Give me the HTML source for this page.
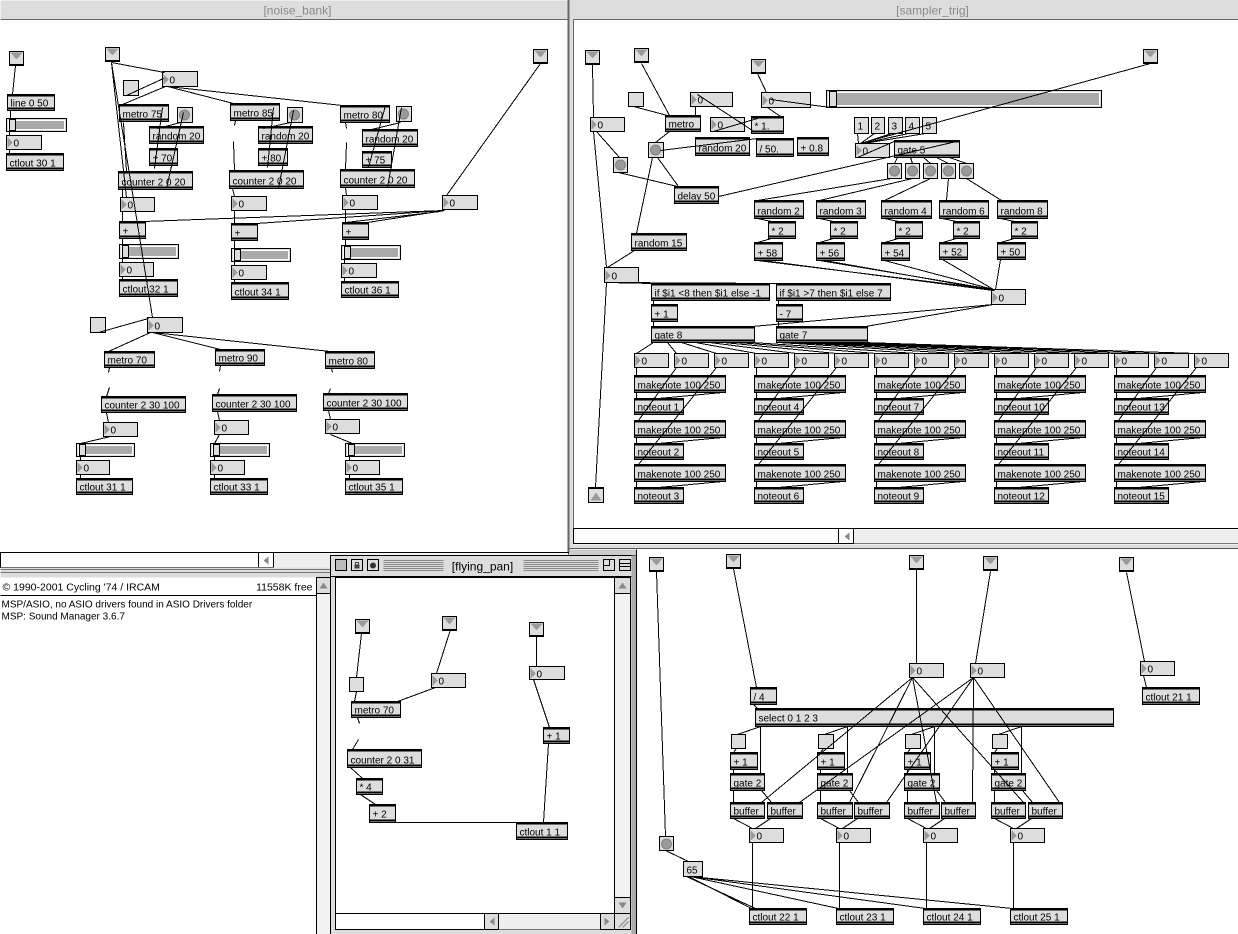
<!DOCTYPE html>
<html><head><meta charset="utf-8"><title>Max patches</title>
<style>
html,body{margin:0;padding:0;background:#fff;}
body{width:1238px;height:934px;overflow:hidden;}
svg{display:block;}
text{font-family:"Liberation Sans",sans-serif;font-size:10px;fill:#000;}
.o{fill:#ddd;stroke:#000;}
.l{stroke:#000;fill:none;}
.k{stroke:#000;fill:none;stroke-width:2;}
.s1{fill:#aaa;stroke:#fff;}
.kn{fill:#ddd;stroke:#000;}
.ttl{font-size:12px;fill:#8a8a8a;}
</style></head><body>
<svg width="1238" height="934" viewBox="0 0 1238 934" shape-rendering="crispEdges" xmlns="http://www.w3.org/2000/svg">
<defs>
<path id="nt" d="M1,2 L6,7 L1,12 Z" fill="#999"/>
<g id="inl"><path d="M1,1 H13 L7,8 Z" fill="#9a9a9a"/><path d="M0,13 H14" stroke="#000"/></g>
<circle id="bt" cx="7" cy="7.5" r="5" fill="#9a9a9a" stroke="#808080" style="shape-rendering:auto"/>
</defs>
<g transform="translate(0.5,0.5)">

<!-- ============ noise_bank content ============ -->
<rect class="o" x="9" y="51" width="14" height="14"/><use href="#inl" x="9" y="51"/>
<rect class="o" x="105" y="47" width="14" height="14"/><use href="#inl" x="105" y="47"/>
<rect class="o" x="533" y="49" width="14" height="14"/><use href="#inl" x="533" y="49"/>
<rect class="o" x="7" y="94" width="47" height="16"/><path class="k" d="M7,95h47M7,108h47"/><text x="10" y="106">line 0 50</text>
<rect class="o" x="6" y="118" width="60" height="13"/><rect class="s1" x="8" y="120" width="56" height="9"/><rect class="kn" x="9" y="119" width="6" height="11"/>
<rect class="o" x="6" y="135" width="35" height="14"/><use href="#nt" x="6" y="135"/><text x="13" y="146">0</text>
<rect class="o" x="6" y="153" width="57" height="17"/><path class="k" d="M6,154h57M6,168h57"/><text x="9" y="166">ctlout 30 1</text>

<rect class="o" x="162" y="71" width="35" height="15"/><use href="#nt" x="162" y="72"/><text x="169" y="83">0</text>
<rect class="o" x="123" y="80" width="15" height="15"/>

<rect class="o" x="119" y="104" width="49" height="17"/><path class="k" d="M119,105h49M119,119h49"/><text x="122" y="117">metro 75</text>
<rect class="o" x="177" y="107" width="15" height="15"/><use href="#bt" x="177" y="107"/>
<rect class="o" x="149" y="126" width="54" height="17"/><path class="k" d="M149,127h54M149,141h54"/><text x="152" y="139">random 20</text>
<rect class="o" x="149" y="148" width="28" height="17"/><path class="k" d="M149,149h28M149,163h28"/><text x="152" y="161">+ 70</text>
<rect class="o" x="118" y="171" width="74" height="18"/><path class="k" d="M118,172h74M118,187h74"/><text x="121" y="185">counter 2 0 20</text>
<rect class="o" x="120" y="197" width="34" height="14"/><use href="#nt" x="120" y="197"/><text x="127" y="208">0</text>
<rect class="o" x="119" y="221" width="26" height="17"/><path class="k" d="M119,222h26M119,236h26"/><text x="122" y="234">+</text>
<rect class="o" x="119" y="244" width="59" height="14"/><rect class="s1" x="121" y="246" width="55" height="10"/><rect class="kn" x="122" y="245" width="6" height="12"/>
<rect class="o" x="119" y="262" width="34" height="14"/><use href="#nt" x="119" y="262"/><text x="126" y="273">0</text>
<rect class="o" x="119" y="279" width="58" height="17"/><path class="k" d="M119,280h58M119,294h58"/><text x="122" y="292">ctlout 32 1</text>

<rect class="o" x="230" y="103" width="49" height="17"/><path class="k" d="M230,104h49M230,118h49"/><text x="233" y="116">metro 85</text>
<rect class="o" x="287" y="107" width="15" height="15"/><use href="#bt" x="287" y="107"/>
<rect class="o" x="258" y="126" width="54" height="17"/><path class="k" d="M258,127h54M258,141h54"/><text x="261" y="139">random 20</text>
<rect class="o" x="258" y="148" width="29" height="17"/><path class="k" d="M258,149h29M258,163h29"/><text x="261" y="161">+ 80</text>
<rect class="o" x="229" y="170" width="74" height="18"/><path class="k" d="M229,171h74M229,186h74"/><text x="232" y="184">counter 2 0 20</text>
<rect class="o" x="231" y="196" width="35" height="14"/><use href="#nt" x="231" y="196"/><text x="238" y="207">0</text>
<rect class="o" x="231" y="223" width="26" height="17"/><path class="k" d="M231,224h26M231,238h26"/><text x="234" y="236">+</text>
<rect class="o" x="231" y="248" width="59" height="13"/><rect class="s1" x="233" y="250" width="55" height="9"/><rect class="kn" x="234" y="249" width="6" height="11"/>
<rect class="o" x="231" y="265" width="35" height="14"/><use href="#nt" x="231" y="265"/><text x="238" y="276">0</text>
<rect class="o" x="231" y="282" width="57" height="17"/><path class="k" d="M231,283h57M231,297h57"/><text x="234" y="295">ctlout 34 1</text>

<rect class="o" x="340" y="105" width="49" height="17"/><path class="k" d="M340,106h49M340,120h49"/><text x="343" y="118">metro 80</text>
<rect class="o" x="396" y="106" width="15" height="15"/><use href="#bt" x="396" y="106"/>
<rect class="o" x="362" y="129" width="55" height="17"/><path class="k" d="M362,130h55M362,144h55"/><text x="365" y="142">random 20</text>
<rect class="o" x="362" y="151" width="29" height="16"/><path class="k" d="M362,152h29M362,165h29"/><text x="365" y="163">+ 75</text>
<rect class="o" x="340" y="169" width="74" height="18"/><path class="k" d="M340,170h74M340,185h74"/><text x="343" y="183">counter 2 0 20</text>
<rect class="o" x="342" y="195" width="35" height="14"/><use href="#nt" x="342" y="195"/><text x="349" y="206">0</text>
<rect class="o" x="342" y="222" width="26" height="17"/><path class="k" d="M342,223h26M342,237h26"/><text x="345" y="235">+</text>
<rect class="o" x="341" y="245" width="59" height="14"/><rect class="s1" x="343" y="247" width="55" height="10"/><rect class="kn" x="344" y="246" width="6" height="12"/>
<rect class="o" x="341" y="263" width="35" height="14"/><use href="#nt" x="341" y="263"/><text x="348" y="274">0</text>
<rect class="o" x="341" y="281" width="57" height="16"/><path class="k" d="M341,282h57M341,295h57"/><text x="344" y="293">ctlout 36 1</text>

<rect class="o" x="442" y="195" width="35" height="14"/><use href="#nt" x="442" y="195"/><text x="449" y="206">0</text>

<rect class="o" x="90" y="317" width="15" height="15"/>
<rect class="o" x="147" y="317" width="35" height="15"/><use href="#nt" x="147" y="318"/><text x="154" y="329">0</text>
<rect class="o" x="104" y="351" width="50" height="16"/><path class="k" d="M104,352h50M104,365h50"/><text x="107" y="363">metro 70</text>
<rect class="o" x="215" y="349" width="49" height="16"/><path class="k" d="M215,350h49M215,363h49"/><text x="218" y="361">metro 90</text>
<rect class="o" x="325" y="351" width="49" height="17"/><path class="k" d="M325,352h49M325,366h49"/><text x="328" y="364">metro 80</text>
<rect class="o" x="101" y="396" width="84" height="16"/><path class="k" d="M101,397h84M101,410h84"/><text x="104" y="408">counter 2 30 100</text>
<rect class="o" x="212" y="394" width="84" height="17"/><path class="k" d="M212,395h84M212,409h84"/><text x="215" y="407">counter 2 30 100</text>
<rect class="o" x="323" y="393" width="84" height="17"/><path class="k" d="M323,394h84M323,408h84"/><text x="326" y="406">counter 2 30 100</text>
<rect class="o" x="103" y="422" width="34" height="14"/><use href="#nt" x="103" y="422"/><text x="110" y="433">0</text>
<rect class="o" x="214" y="420" width="34" height="14"/><use href="#nt" x="214" y="420"/><text x="221" y="431">0</text>
<rect class="o" x="325" y="419" width="34" height="14"/><use href="#nt" x="325" y="419"/><text x="332" y="430">0</text>
<rect class="o" x="76" y="443" width="58" height="13"/><rect class="s1" x="78" y="445" width="54" height="9"/><rect class="kn" x="79" y="444" width="6" height="11"/>
<rect class="o" x="210" y="443" width="59" height="13"/><rect class="s1" x="212" y="445" width="55" height="9"/><rect class="kn" x="213" y="444" width="6" height="11"/>
<rect class="o" x="345" y="443" width="59" height="13"/><rect class="s1" x="347" y="445" width="55" height="9"/><rect class="kn" x="348" y="444" width="6" height="11"/>
<rect class="o" x="76" y="460" width="33" height="14"/><use href="#nt" x="76" y="460"/><text x="83" y="471">0</text>
<rect class="o" x="210" y="460" width="34" height="14"/><use href="#nt" x="210" y="460"/><text x="217" y="471">0</text>
<rect class="o" x="345" y="460" width="34" height="14"/><use href="#nt" x="345" y="460"/><text x="352" y="471">0</text>
<rect class="o" x="76" y="478" width="56" height="16"/><path class="k" d="M76,479h56M76,492h56"/><text x="79" y="490">ctlout 31 1</text>
<rect class="o" x="210" y="478" width="57" height="16"/><path class="k" d="M210,479h57M210,492h57"/><text x="213" y="490">ctlout 33 1</text>
<rect class="o" x="345" y="478" width="57" height="16"/><path class="k" d="M345,479h57M345,492h57"/><text x="348" y="490">ctlout 35 1</text>

<path class="l" d="M15,65L12,94M10,110L10,118M9,131L9,135M9,149L9,153
M111,62L164,72M111,62L152,317M111,62L126,197M126,95L163,78
M165,86L122,104M167,86L233,103M167,86L342,105
M123,122L126,171M162,107L154,168M183,112L166,188M180,122L157,128
M273,107L267,167M293,110L278,188M290,122L263,128
M385,105L368,167M401,107L387,187M400,122L367,130
M235,120L234,125M233,141L234,170M345,122L346,128M346,142L345,169
M122,189L122,197M232,188L234,196M345,187L346,195
M122,211L122,221M122,238L122,244M122,258L122,262M122,276L122,279
M234,210L234,223M234,240L234,248M234,261L234,265M234,279L234,282
M345,209L345,222M345,239L345,245M344,259L344,263M344,277L344,281
M444,210L143,221M444,210L256,223M444,210L367,222M440,211L345,222M540,63L446,195
M98,332L148,318M150,332L108,351M152,332L220,349M152,332L330,351
M109,367L108,372M109,387L106,396M220,365L219,371M219,388L217,394M331,368L332,372M330,388L328,393
M106,412L108,422M217,411L219,420M328,410L330,419
M110,436L80,443M219,434L214,443M330,434L352,443
M80,456L80,460M214,456L214,460M349,456L349,460M80,474L80,478M214,474L214,478M349,474L349,478"/>

<!-- ============ sampler_trig content ============ -->
<rect class="o" x="585" y="50" width="14" height="14"/><use href="#inl" x="585" y="50"/>
<rect class="o" x="634" y="48" width="14" height="14"/><use href="#inl" x="634" y="48"/>
<rect class="o" x="751" y="59" width="14" height="14"/><use href="#inl" x="751" y="59"/>
<rect class="o" x="1143" y="49" width="14" height="14"/><use href="#inl" x="1143" y="49"/>
<rect class="o" x="628" y="92" width="15" height="14"/>
<rect class="o" x="690" y="92" width="42" height="14"/><use href="#nt" x="690" y="92"/><text x="697" y="103">0</text>
<rect class="o" x="761" y="92" width="49" height="15"/><use href="#nt" x="761" y="93"/><text x="768" y="104">0</text>
<rect class="o" x="826" y="90" width="275" height="17"/><rect class="s1" x="828" y="92" width="271" height="13"/><rect class="kn" x="829" y="91" width="7" height="15"/>
<rect class="o" x="590" y="117" width="34" height="14"/><use href="#nt" x="590" y="117"/><text x="597" y="128">0</text>
<rect class="o" x="665" y="115" width="35" height="16"/><path class="k" d="M665,116h35M665,129h35"/><text x="668" y="127">metro</text>
<rect class="o" x="710" y="117" width="34" height="14"/><use href="#nt" x="710" y="117"/><text x="717" y="128">0</text>
<rect class="o" x="751" y="116" width="32" height="17"/><path class="k" d="M751,117h32M751,131h32"/><text x="754" y="129">* 1.</text>
<rect class="o" x="695" y="137" width="54" height="18"/><path class="k" d="M695,138h54M695,153h54"/><text x="698" y="151">random 20</text>
<rect class="o" x="756" y="138" width="37" height="18"/><path class="k" d="M756,139h37M756,154h37"/><text x="759" y="152">/ 50.</text>
<rect class="o" x="797" y="137" width="31" height="18"/><path class="k" d="M797,138h31M797,153h31"/><text x="800" y="151">+ 0.8</text>
<rect class="o" x="648" y="142" width="15" height="15"/><use href="#bt" x="648" y="142"/>
<rect class="o" x="613" y="157" width="14" height="15"/><use href="#bt" x="613" y="157"/>
<rect class="o" x="674" y="186" width="44" height="17"/><path class="k" d="M674,187h44M674,201h44"/><text x="677" y="199">delay 50</text>
<rect class="o" x="854" y="117" width="14" height="16"/><text x="857" y="129">1</text>
<rect class="o" x="871" y="117" width="13" height="16"/><text x="874" y="129">2</text>
<rect class="o" x="888" y="117" width="14" height="16"/><text x="891" y="129">3</text>
<rect class="o" x="905" y="117" width="14" height="16"/><text x="908" y="129">4</text>
<rect class="o" x="922" y="117" width="14" height="16"/><text x="925" y="129">5</text>
<rect class="o" x="855" y="143" width="34" height="14"/><use href="#nt" x="855" y="143"/><text x="862" y="154">0</text>
<rect class="o" x="894" y="140" width="65" height="17"/><path class="k" d="M894,141h65M894,155h65"/><text x="897" y="153">gate 5</text>
<rect class="o" x="887" y="163" width="14" height="15"/><use href="#bt" x="887" y="163"/>
<rect class="o" x="905" y="163" width="14" height="15"/><use href="#bt" x="905" y="163"/>
<rect class="o" x="923" y="163" width="14" height="15"/><use href="#bt" x="923" y="163"/>
<rect class="o" x="941" y="163" width="14" height="15"/><use href="#bt" x="941" y="163"/>
<rect class="o" x="959" y="163" width="14" height="15"/><use href="#bt" x="959" y="163"/>
<rect class="o" x="754" y="200" width="49" height="18"/><path class="k" d="M754,201h49M754,216h49"/><text x="757" y="214">random 2</text>
<rect class="o" x="816" y="200" width="49" height="18"/><path class="k" d="M816,201h49M816,216h49"/><text x="819" y="214">random 3</text>
<rect class="o" x="881" y="200" width="50" height="18"/><path class="k" d="M881,201h50M881,216h50"/><text x="884" y="214">random 4</text>
<rect class="o" x="939" y="200" width="49" height="18"/><path class="k" d="M939,201h49M939,216h49"/><text x="942" y="214">random 6</text>
<rect class="o" x="997" y="200" width="50" height="18"/><path class="k" d="M997,201h50M997,216h50"/><text x="1000" y="214">random 8</text>
<rect class="o" x="768" y="221" width="27" height="17"/><path class="k" d="M768,222h27M768,236h27"/><text x="771" y="234">* 2</text>
<rect class="o" x="830" y="221" width="27" height="17"/><path class="k" d="M830,222h27M830,236h27"/><text x="833" y="234">* 2</text>
<rect class="o" x="895" y="221" width="27" height="17"/><path class="k" d="M895,222h27M895,236h27"/><text x="898" y="234">* 2</text>
<rect class="o" x="953" y="221" width="26" height="17"/><path class="k" d="M953,222h26M953,236h26"/><text x="956" y="234">* 2</text>
<rect class="o" x="1011" y="221" width="26" height="17"/><path class="k" d="M1011,222h26M1011,236h26"/><text x="1014" y="234">* 2</text>
<rect class="o" x="754" y="242" width="28" height="18"/><path class="k" d="M754,243h28M754,258h28"/><text x="757" y="256">+ 58</text>
<rect class="o" x="816" y="242" width="28" height="18"/><path class="k" d="M816,243h28M816,258h28"/><text x="819" y="256">+ 56</text>
<rect class="o" x="881" y="242" width="28" height="18"/><path class="k" d="M881,243h28M881,258h28"/><text x="884" y="256">+ 54</text>
<rect class="o" x="939" y="242" width="28" height="17"/><path class="k" d="M939,243h28M939,257h28"/><text x="942" y="255">+ 52</text>
<rect class="o" x="997" y="242" width="28" height="17"/><path class="k" d="M997,243h28M997,257h28"/><text x="1000" y="255">+ 50</text>
<rect class="o" x="991" y="289" width="34" height="15"/><use href="#nt" x="991" y="290"/><text x="998" y="301">0</text>
<rect class="o" x="631" y="233" width="55" height="17"/><path class="k" d="M631,234h55M631,248h55"/><text x="634" y="246">random 15</text>
<rect class="o" x="604" y="267" width="34" height="15"/><use href="#nt" x="604" y="268"/><text x="611" y="279">0</text>
<rect class="o" x="588" y="487" width="15" height="15"/><path d="M590,500L595.5,492L601,500Z" fill="#9a9a9a"/><path class="l" d="M588,488h15"/>
<rect class="o" x="651" y="283" width="118" height="17"/><path class="k" d="M651,284h118M651,298h118"/><text x="654" y="296">if $i1 &lt;8 then $i1 else -1</text>
<rect class="o" x="776" y="283" width="114" height="17"/><path class="k" d="M776,284h114M776,298h114"/><text x="779" y="296">if $i1 &gt;7 then $i1 else 7</text>
<rect class="o" x="651" y="304" width="26" height="17"/><path class="k" d="M651,305h26M651,319h26"/><text x="654" y="317">+ 1</text>
<rect class="o" x="776" y="304" width="26" height="17"/><path class="k" d="M776,305h26M776,319h26"/><text x="779" y="317">- 7</text>
<rect class="o" x="651" y="326" width="103" height="16"/><path class="k" d="M651,327h103M651,340h103"/><text x="654" y="338">gate 8</text>
<rect class="o" x="776" y="326" width="91" height="16"/><path class="k" d="M776,327h91M776,340h91"/><text x="779" y="338">gate 7</text>

<!-- number row -->
<rect class="o" x="634" y="353" width="34" height="14"/><use href="#nt" x="634" y="353"/><text x="641" y="364">0</text>
<rect class="o" x="674" y="353" width="34" height="14"/><use href="#nt" x="674" y="353"/><text x="681" y="364">0</text>
<rect class="o" x="714" y="353" width="34" height="14"/><use href="#nt" x="714" y="353"/><text x="721" y="364">0</text>
<rect class="o" x="754" y="353" width="34" height="14"/><use href="#nt" x="754" y="353"/><text x="761" y="364">0</text>
<rect class="o" x="794" y="353" width="34" height="14"/><use href="#nt" x="794" y="353"/><text x="801" y="364">0</text>
<rect class="o" x="834" y="353" width="34" height="14"/><use href="#nt" x="834" y="353"/><text x="841" y="364">0</text>
<rect class="o" x="874" y="353" width="34" height="14"/><use href="#nt" x="874" y="353"/><text x="881" y="364">0</text>
<rect class="o" x="914" y="353" width="34" height="14"/><use href="#nt" x="914" y="353"/><text x="921" y="364">0</text>
<rect class="o" x="954" y="353" width="34" height="14"/><use href="#nt" x="954" y="353"/><text x="961" y="364">0</text>
<rect class="o" x="994" y="353" width="34" height="14"/><use href="#nt" x="994" y="353"/><text x="1001" y="364">0</text>
<rect class="o" x="1034" y="353" width="34" height="14"/><use href="#nt" x="1034" y="353"/><text x="1041" y="364">0</text>
<rect class="o" x="1074" y="353" width="34" height="14"/><use href="#nt" x="1074" y="353"/><text x="1081" y="364">0</text>
<rect class="o" x="1114" y="353" width="34" height="14"/><use href="#nt" x="1114" y="353"/><text x="1121" y="364">0</text>
<rect class="o" x="1154" y="353" width="34" height="14"/><use href="#nt" x="1154" y="353"/><text x="1161" y="364">0</text>
<rect class="o" x="1194" y="353" width="34" height="14"/><use href="#nt" x="1194" y="353"/><text x="1201" y="364">0</text>

<!-- group 0 -->
<rect class="o" x="634" y="375" width="91" height="17"/><path class="k" d="M634,376h91M634,390h91"/><text x="637" y="388">makenote 100 250</text>
<rect class="o" x="634" y="398" width="49" height="16"/><path class="k" d="M634,399h49M634,412h49"/><text x="637" y="410">noteout 1</text>
<rect class="o" x="634" y="420" width="91" height="17"/><path class="k" d="M634,421h91M634,435h91"/><text x="637" y="433">makenote 100 250</text>
<rect class="o" x="634" y="443" width="49" height="16"/><path class="k" d="M634,444h49M634,457h49"/><text x="637" y="455">noteout 2</text>
<rect class="o" x="634" y="464" width="91" height="17"/><path class="k" d="M634,465h91M634,479h91"/><text x="637" y="477">makenote 100 250</text>
<rect class="o" x="634" y="487" width="49" height="16"/><path class="k" d="M634,488h49M634,501h49"/><text x="637" y="499">noteout 3</text>
<!-- group 1 -->
<rect class="o" x="754" y="375" width="91" height="17"/><path class="k" d="M754,376h91M754,390h91"/><text x="757" y="388">makenote 100 250</text>
<rect class="o" x="754" y="398" width="49" height="16"/><path class="k" d="M754,399h49M754,412h49"/><text x="757" y="410">noteout 4</text>
<rect class="o" x="754" y="420" width="91" height="17"/><path class="k" d="M754,421h91M754,435h91"/><text x="757" y="433">makenote 100 250</text>
<rect class="o" x="754" y="443" width="49" height="16"/><path class="k" d="M754,444h49M754,457h49"/><text x="757" y="455">noteout 5</text>
<rect class="o" x="754" y="464" width="91" height="17"/><path class="k" d="M754,465h91M754,479h91"/><text x="757" y="477">makenote 100 250</text>
<rect class="o" x="754" y="487" width="49" height="16"/><path class="k" d="M754,488h49M754,501h49"/><text x="757" y="499">noteout 6</text>
<!-- group 2 -->
<rect class="o" x="874" y="375" width="91" height="17"/><path class="k" d="M874,376h91M874,390h91"/><text x="877" y="388">makenote 100 250</text>
<rect class="o" x="874" y="398" width="49" height="16"/><path class="k" d="M874,399h49M874,412h49"/><text x="877" y="410">noteout 7</text>
<rect class="o" x="874" y="420" width="91" height="17"/><path class="k" d="M874,421h91M874,435h91"/><text x="877" y="433">makenote 100 250</text>
<rect class="o" x="874" y="443" width="49" height="16"/><path class="k" d="M874,444h49M874,457h49"/><text x="877" y="455">noteout 8</text>
<rect class="o" x="874" y="464" width="91" height="17"/><path class="k" d="M874,465h91M874,479h91"/><text x="877" y="477">makenote 100 250</text>
<rect class="o" x="874" y="487" width="49" height="16"/><path class="k" d="M874,488h49M874,501h49"/><text x="877" y="499">noteout 9</text>
<!-- group 3 -->
<rect class="o" x="994" y="375" width="91" height="17"/><path class="k" d="M994,376h91M994,390h91"/><text x="997" y="388">makenote 100 250</text>
<rect class="o" x="994" y="398" width="54" height="16"/><path class="k" d="M994,399h54M994,412h54"/><text x="997" y="410">noteout 10</text>
<rect class="o" x="994" y="420" width="91" height="17"/><path class="k" d="M994,421h91M994,435h91"/><text x="997" y="433">makenote 100 250</text>
<rect class="o" x="994" y="443" width="54" height="16"/><path class="k" d="M994,444h54M994,457h54"/><text x="997" y="455">noteout 11</text>
<rect class="o" x="994" y="464" width="91" height="17"/><path class="k" d="M994,465h91M994,479h91"/><text x="997" y="477">makenote 100 250</text>
<rect class="o" x="994" y="487" width="54" height="16"/><path class="k" d="M994,488h54M994,501h54"/><text x="997" y="499">noteout 12</text>
<!-- group 4 -->
<rect class="o" x="1114" y="375" width="91" height="17"/><path class="k" d="M1114,376h91M1114,390h91"/><text x="1117" y="388">makenote 100 250</text>
<rect class="o" x="1114" y="398" width="54" height="16"/><path class="k" d="M1114,399h54M1114,412h54"/><text x="1117" y="410">noteout 13</text>
<rect class="o" x="1114" y="420" width="91" height="17"/><path class="k" d="M1114,421h91M1114,435h91"/><text x="1117" y="433">makenote 100 250</text>
<rect class="o" x="1114" y="443" width="54" height="16"/><path class="k" d="M1114,444h54M1114,457h54"/><text x="1117" y="455">noteout 14</text>
<rect class="o" x="1114" y="464" width="91" height="17"/><path class="k" d="M1114,465h91M1114,479h91"/><text x="1117" y="477">makenote 100 250</text>
<rect class="o" x="1114" y="487" width="54" height="16"/><path class="k" d="M1114,488h54M1114,501h54"/><text x="1117" y="499">noteout 15</text>

<path class="l" d="M592,64L593,117M593,131L606,267M606,282L595,487M596,131L619,157M618,172L677,186
M641,63L669,115M633,106L667,115M695,106L695,115M669,131L655,142M652,157L636,233M657,157L678,186
M660,150L757,138M697,94L752,130M713,131L760,117M767,107L780,116M770,99L830,107M757,73L766,92
M718,196L956,141M857,157L896,140
M857,133L858,143M874,133L860,143M891,133L861,143M908,133L862,143M925,133L863,143M1150,63L860,143
M897,157L894,163M910,157L912,163M923,157L930,163M936,157L948,163M949,157L966,163
M891,178L757,200M912,178L819,200M930,178L884,200M948,178L946,200M966,178L1001,200
M757,218L771,221M819,218L833,221M884,218L898,221M942,218L956,221M1000,218L1014,221
M771,238L757,242M833,238L819,242M898,238L884,242M956,238L942,242M1014,238L1000,242
M757,260L993,289M819,260L993,289M884,260L993,289M942,259L993,289M1000,259L995,289M762,260L993,290M824,260L994,290
M634,250L607,267M606,282L653,283M606,282L778,283M993,304L752,326M993,304L865,326
M653,300L653,304M653,321L653,326M778,300L778,304M778,321L778,326
M653,342L636,353M667,342L676,353M681,342L716,353M695,342L756,353M709,342L796,353M723,342L836,353M737,342L876,353M751,342L916,353
M778,342L956,353M792,342L996,353M806,342L1036,353M820,342L1076,353M834,342L1116,353M848,342L1156,353M862,342L1196,353
M636,367L636,375M676,367L638,420M716,367L638,464M636,392L636,398M722,392L658,398M636,437L636,443M722,437L658,443M636,481L636,487M722,481L658,487
M756,367L756,375M796,367L758,420M836,367L758,464M756,392L756,398M842,392L778,398M756,437L756,443M842,437L778,443M756,481L756,487M842,481L778,487
M876,367L876,375M916,367L878,420M956,367L878,464M876,392L876,398M962,392L898,398M876,437L876,443M962,437L898,443M876,481L876,487M962,481L898,487
M996,367L996,375M1036,367L998,420M1076,367L998,464M996,392L996,398M1082,392L1018,398M996,437L996,443M1082,437L1018,443M996,481L996,487M1082,481L1018,487
M1116,367L1116,375M1156,367L1118,420M1196,367L1118,464M1116,392L1116,398M1202,392L1138,398M1116,437L1116,443M1202,437L1138,443M1116,481L1116,487M1202,481L1138,487"/>

<!-- ============ bottom-right window content ============ -->
<rect class="o" x="649" y="557" width="14" height="14"/><use href="#inl" x="649" y="557"/>
<rect class="o" x="726" y="554" width="14" height="14"/><use href="#inl" x="726" y="554"/>
<rect class="o" x="909" y="555" width="14" height="14"/><use href="#inl" x="909" y="555"/>
<rect class="o" x="983" y="556" width="14" height="14"/><use href="#inl" x="983" y="556"/>
<rect class="o" x="1119" y="557" width="14" height="14"/><use href="#inl" x="1119" y="557"/>
<rect class="o" x="909" y="663" width="34" height="14"/><use href="#nt" x="909" y="663"/><text x="916" y="674">0</text>
<rect class="o" x="970" y="663" width="34" height="14"/><use href="#nt" x="970" y="663"/><text x="977" y="674">0</text>
<rect class="o" x="1140" y="661" width="34" height="14"/><use href="#nt" x="1140" y="661"/><text x="1147" y="672">0</text>
<rect class="o" x="1142" y="687" width="57" height="17"/><path class="k" d="M1142,688h57M1142,702h57"/><text x="1145" y="700">ctlout 21 1</text>
<rect class="o" x="750" y="687" width="26" height="17"/><path class="k" d="M750,688h26M750,702h26"/><text x="753" y="700">/ 4</text>
<rect class="o" x="755" y="708" width="358" height="18"/><path class="k" d="M755,709h358M755,724h358"/><text x="758" y="721">select 0 1 2 3</text>
<rect class="o" x="731" y="734" width="14" height="14"/>
<rect class="o" x="818" y="734" width="15" height="14"/>
<rect class="o" x="905" y="734" width="15" height="14"/>
<rect class="o" x="992" y="734" width="15" height="14"/>
<rect class="o" x="730" y="752" width="27" height="17"/><path class="k" d="M730,753h27M730,767h27"/><text x="733" y="765">+ 1</text>
<rect class="o" x="817" y="752" width="27" height="17"/><path class="k" d="M817,753h27M817,767h27"/><text x="820" y="765">+ 1</text>
<rect class="o" x="904" y="752" width="26" height="17"/><path class="k" d="M904,753h26M904,767h26"/><text x="907" y="765">+ 1</text>
<rect class="o" x="991" y="752" width="27" height="17"/><path class="k" d="M991,753h27M991,767h27"/><text x="994" y="765">+ 1</text>
<rect class="o" x="730" y="773" width="34" height="17"/><path class="k" d="M730,774h34M730,788h34"/><text x="733" y="786">gate 2</text>
<rect class="o" x="817" y="773" width="35" height="17"/><path class="k" d="M817,774h35M817,788h35"/><text x="820" y="786">gate 2</text>
<rect class="o" x="904" y="773" width="35" height="17"/><path class="k" d="M904,774h35M904,788h35"/><text x="907" y="786">gate 2</text>
<rect class="o" x="991" y="773" width="34" height="17"/><path class="k" d="M991,774h34M991,788h34"/><text x="994" y="786">gate 2</text>
<rect class="o" x="730" y="802" width="34" height="16"/><path class="k" d="M730,803h34M730,816h34"/><text x="733" y="814">buffer</text>
<rect class="o" x="767" y="802" width="35" height="16"/><path class="k" d="M767,803h35M767,816h35"/><text x="770" y="814">buffer</text>
<rect class="o" x="817" y="802" width="35" height="16"/><path class="k" d="M817,803h35M817,816h35"/><text x="820" y="814">buffer</text>
<rect class="o" x="854" y="802" width="35" height="16"/><path class="k" d="M854,803h35M854,816h35"/><text x="857" y="814">buffer</text>
<rect class="o" x="904" y="802" width="35" height="16"/><path class="k" d="M904,803h35M904,816h35"/><text x="907" y="814">buffer</text>
<rect class="o" x="941" y="802" width="34" height="16"/><path class="k" d="M941,803h34M941,816h34"/><text x="944" y="814">buffer</text>
<rect class="o" x="991" y="802" width="34" height="16"/><path class="k" d="M991,803h34M991,816h34"/><text x="994" y="814">buffer</text>
<rect class="o" x="1028" y="802" width="34" height="16"/><path class="k" d="M1028,803h34M1028,816h34"/><text x="1031" y="814">buffer</text>
<rect class="o" x="749" y="828" width="34" height="14"/><use href="#nt" x="749" y="828"/><text x="756" y="839">0</text>
<rect class="o" x="836" y="828" width="34" height="14"/><use href="#nt" x="836" y="828"/><text x="843" y="839">0</text>
<rect class="o" x="923" y="828" width="34" height="14"/><use href="#nt" x="923" y="828"/><text x="930" y="839">0</text>
<rect class="o" x="1010" y="828" width="34" height="14"/><use href="#nt" x="1010" y="828"/><text x="1017" y="839">0</text>
<rect class="o" x="659" y="836" width="14" height="14"/><use href="#bt" x="659" y="836"/>
<rect class="o" x="683" y="861" width="19" height="15"/><text x="686" y="873">65</text>
<rect class="o" x="749" y="908" width="57" height="16"/><path class="k" d="M749,909h57M749,922h57"/><text x="752" y="920">ctlout 22 1</text>
<rect class="o" x="836" y="908" width="57" height="16"/><path class="k" d="M836,909h57M836,922h57"/><text x="839" y="920">ctlout 23 1</text>
<rect class="o" x="923" y="908" width="57" height="16"/><path class="k" d="M923,909h57M923,922h57"/><text x="926" y="920">ctlout 24 1</text>
<rect class="o" x="1010" y="908" width="57" height="16"/><path class="k" d="M1010,909h57M1010,922h57"/><text x="1013" y="920">ctlout 25 1</text>

<path class="l" d="M656,571L665,836M665,850L688,861
M688,876L751,908M690,876L838,908M690,876L925,908M690,876L1012,908M686,876L755,908
M733,568L756,687M753,704L757,708M916,569L916,663M990,571L975,663M1126,572L1144,661M1143,675L1146,687
M760,726L737,734M760,726L760,773M847,726L824,734M847,726L847,773M934,726L911,734M934,726L934,773M1021,726L998,734M1021,726L1021,773
M736,748L733,752M823,748L820,752M910,748L907,752M997,748L994,752
M733,769L733,773M820,769L820,773M907,769L907,773M994,769L994,773
M733,790L733,802M761,790L771,802M820,790L820,802M849,790L858,802M907,790L907,802M936,790L945,802M994,790L994,802M1022,790L1032,802
M733,818L752,828M770,818L755,828M820,818L839,828M857,818L842,828M907,818L926,828M944,818L929,828M994,818L1013,828M1031,818L1016,828
M752,842L752,908M839,842L839,908M926,842L926,908M1013,842L1013,908
M912,677L761,802M912,677L849,802M912,677L936,802M912,677L1023,802
M973,677L799,802M973,677L886,802M973,677L972,802M973,677L1059,802"/>

<!-- ============ window chrome ============ -->
<rect x="0" y="0" width="567" height="19" fill="#ddd"/>
<path d="M0,19H567" stroke="#666"/>
<text class="ttl" x="297" y="14" text-anchor="middle">[noise_bank]</text>
<rect x="567" y="-1" width="2" height="553" fill="#666"/>
<rect x="569" y="-1" width="670" height="20" fill="#ddd"/>
<path d="M573,19H1238" stroke="#666"/>
<text class="ttl" x="932" y="14" text-anchor="middle">[sampler_trig]</text>
<rect x="569" y="19" width="4" height="529" fill="#ddd"/>
<path d="M573,19V528" stroke="#666"/>
<rect x="573" y="528" width="666" height="15" fill="#fff" stroke="#000"/>
<rect x="853" y="529" width="385" height="14" fill="#eee"/>
<path d="M838,528V543M853,528V543" stroke="#000"/>
<path d="M849,532L844,536L849,540Z" fill="#888"/>
<rect x="569" y="544" width="669" height="4" fill="#ddd"/>
<path d="M568,548H1238" stroke="#555"/>
<rect x="569" y="549" width="67" height="6" fill="#ccc"/>

<rect x="0" y="552" width="568" height="15" fill="#fff" stroke="#000"/>
<rect x="273" y="553" width="295" height="14" fill="#eee"/>
<path d="M258,552V567M273,552V567" stroke="#000"/>
<path d="M268,556L263,560L268,564Z" fill="#888"/>
<rect x="0" y="567" width="330" height="10" fill="#ddd"/>
<path d="M0,569H330M0,572H330" stroke="#777"/>
<rect x="0" y="577" width="316" height="357" fill="#fff"/>
<path d="M0,595H316" stroke="#000"/>
<text x="2" y="590" style="font-size:10.5px">© 1990-2001 Cycling '74 / IRCAM</text>
<text x="312" y="590" text-anchor="end" style="font-size:10.5px">11558K free</text>
<rect x="316" y="577" width="14" height="358" fill="#f2f2f2" stroke="#000"/>
<rect x="316" y="577" width="14" height="16" fill="#ddd" stroke="#000"/>
<path d="M319,588L323,582L327,588Z" fill="#888"/>
<text x="1" y="607">MSP/ASIO, no ASIO drivers found in ASIO Drivers folder</text>
<text x="1" y="619">MSP: Sound Manager 3.6.7</text>

<!-- flying_pan window -->
<rect x="330" y="555" width="306" height="380" fill="#ddd" stroke="#000"/>
<rect x="335" y="559" width="11" height="11" fill="#bbb" stroke="#000"/>
<rect x="351" y="559" width="11" height="11" fill="#ddd" stroke="#000"/>
<path d="M354,564h5v4h-5z" fill="#444"/><path d="M355,564v-2h3v2" stroke="#444" fill="none"/>
<rect x="367" y="559" width="11" height="11" fill="#ddd" stroke="#000"/>
<circle cx="372.5" cy="565" r="3" fill="#333" style="shape-rendering:auto"/>
<path d="M383,560H443M383,562H443M383,564H443M383,566H443M383,568H443M383,570H443M523,560H598M523,562H598M523,564H598M523,566H598M523,568H598M523,570H598" stroke="#888"/>
<text x="482" y="570" text-anchor="middle" style="font-size:12px">[flying_pan]</text>
<rect x="603" y="559" width="11" height="11" fill="#ddd" stroke="#000"/><path d="M603,565h6v-6" stroke="#000" fill="none"/>
<rect x="619" y="559" width="11" height="11" fill="#ddd" stroke="#000"/><path d="M619,563h11M619,566h11" stroke="#000"/>
<path d="M330,576H636" stroke="#000"/>
<rect x="335" y="577" width="279" height="336" fill="#fff" stroke="#000"/>
<rect x="614" y="577" width="16" height="336" fill="#f2f2f2" stroke="#000"/>
<rect x="614" y="577" width="16" height="16" fill="#ddd" stroke="#000"/>
<path d="M618,588L622,582L626,588Z" fill="#888"/>
<rect x="614" y="897" width="16" height="16" fill="#ddd" stroke="#000"/>
<path d="M618,902L622,908L626,902Z" fill="#888"/>
<rect x="335" y="913" width="279" height="16" fill="#fff" stroke="#000"/>
<rect x="498" y="914" width="102" height="15" fill="#eee"/>
<rect x="484" y="913" width="14" height="16" fill="#ddd" stroke="#000"/>
<path d="M494,917L489,921L494,925Z" fill="#888"/>
<rect x="600" y="913" width="14" height="16" fill="#ddd" stroke="#000"/>
<path d="M604,917L609,921L604,925Z" fill="#888"/>
<rect x="614" y="913" width="16" height="16" fill="#ddd" stroke="#000"/>
<path d="M618,927L628,917M622,927L628,921" stroke="#888"/>
<rect x="631" y="555" width="5" height="380" fill="#aaa"/>
<path d="M636,549V934" stroke="#000"/>

<!-- flying_pan content -->
<rect class="o" x="355" y="619" width="14" height="14"/><use href="#inl" x="355" y="619"/>
<rect class="o" x="442" y="616" width="14" height="14"/><use href="#inl" x="442" y="616"/>
<rect class="o" x="529" y="622" width="14" height="14"/><use href="#inl" x="529" y="622"/>
<rect class="o" x="349" y="677" width="14" height="14"/>
<rect class="o" x="431" y="673" width="34" height="14"/><use href="#nt" x="431" y="673"/><text x="438" y="684">0</text>
<rect class="o" x="529" y="666" width="35" height="13"/><use href="#nt" x="529" y="666"/><text x="536" y="677">0</text>
<rect class="o" x="351" y="701" width="49" height="16"/><path class="k" d="M351,702h49M351,715h49"/><text x="354" y="713">metro 70</text>
<rect class="o" x="347" y="749" width="74" height="18"/><path class="k" d="M347,750h74M347,765h74"/><text x="350" y="763">counter 2 0 31</text>
<rect class="o" x="356" y="778" width="26" height="16"/><path class="k" d="M356,779h26M356,792h26"/><text x="359" y="790">* 4</text>
<rect class="o" x="369" y="804" width="26" height="18"/><path class="k" d="M369,805h26M369,820h26"/><text x="372" y="817">+ 2</text>
<rect class="o" x="543" y="727" width="26" height="16"/><path class="k" d="M543,728h26M543,741h26"/><text x="546" y="739">+ 1</text>
<rect class="o" x="516" y="822" width="51" height="17"/><path class="k" d="M516,823h51M516,837h51"/><text x="519" y="835">ctlout 1 1</text>
<path class="l" d="M361,633L356,677M356,691L354,701M450,629L436,673M435,687L397,701M357,717L359,723M358,739L352,749M350,767L362,778M360,794L375,804M373,822L520,822M536,636L536,666M533,679L549,727M548,743L543,822"/>

</g>
</svg>
</body></html>
